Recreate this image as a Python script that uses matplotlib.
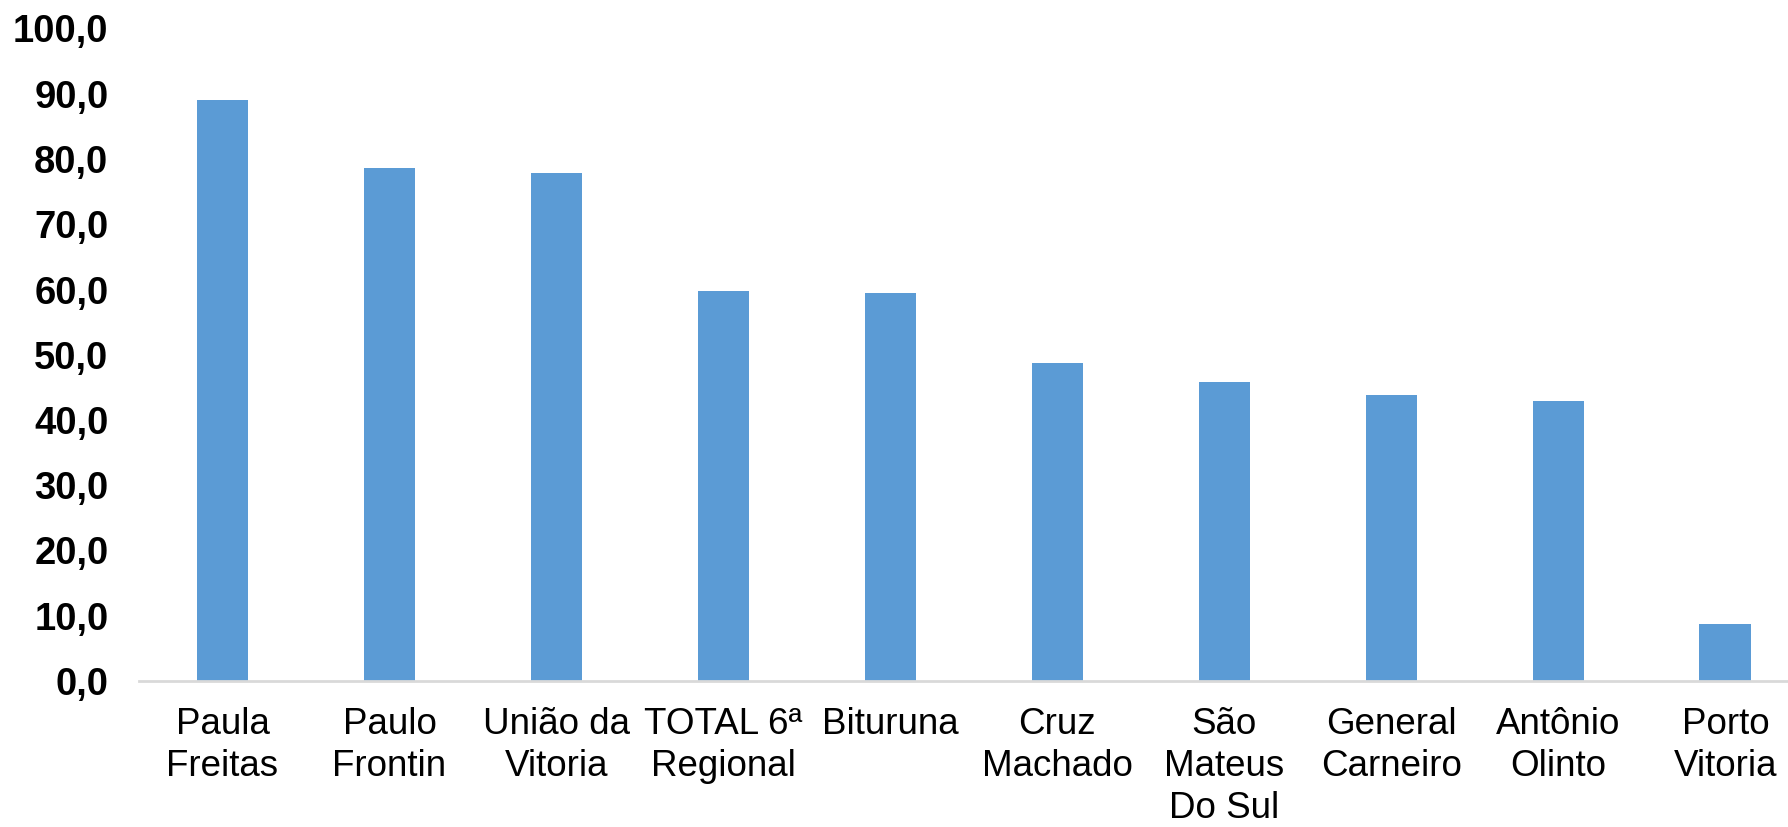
import matplotlib
matplotlib.use("Agg")
import matplotlib.pyplot as plt

categories = ["Paula\nFreitas", "Paulo\nFrontin", "União da\nVitoria", "TOTAL 6ª\nRegional",
              "Bituruna", "Cruz\nMachado", "São\nMateus\nDo Sul", "General\nCarneiro",
              "Antônio\nOlinto", "Porto\nVitoria"]
values = [89.0, 78.6, 77.8, 59.8, 59.5, 48.8, 45.8, 43.9, 42.9, 8.7]
yticks = [0, 10, 20, 30, 40, 50, 60, 70, 80, 90, 100]
ytick_labels = ["0,0", "10,0", "20,0", "30,0", "40,0", "50,0", "60,0", "70,0", "80,0", "90,0", "100,0"]

plt.rcParams['font.family'] = ['Liberation Sans', 'DejaVu Sans']

fig = plt.figure(figsize=(17.88, 8.27), dpi=100)
ax = fig.add_axes([139/1788, (827-681)/827, (1788-139)/1788, (681-28.5)/827])

x = list(range(len(categories)))
ax.bar(x, values, width=0.31, color="#5B9BD5", zorder=2)

ax.set_xlim(-0.5, 9.375)
ax.set_ylim(0, 100)
ax.set_yticks(yticks)
ax.set_yticklabels(ytick_labels, fontsize=27.5, fontweight='bold')
ax.set_xticks(x)
ax.set_xticklabels(categories, fontsize=26.5, linespacing=1.26)
ax.tick_params(axis='y', length=0, pad=22)
ax.tick_params(axis='x', length=0, pad=19)

for s in ['top', 'right', 'left']:
    ax.spines[s].set_visible(False)
ax.spines['bottom'].set_color('#D9D9D9')
ax.spines['bottom'].set_linewidth(2)
ax.spines['bottom'].set_zorder(3)

fig.savefig("out.png", dpi=100)
